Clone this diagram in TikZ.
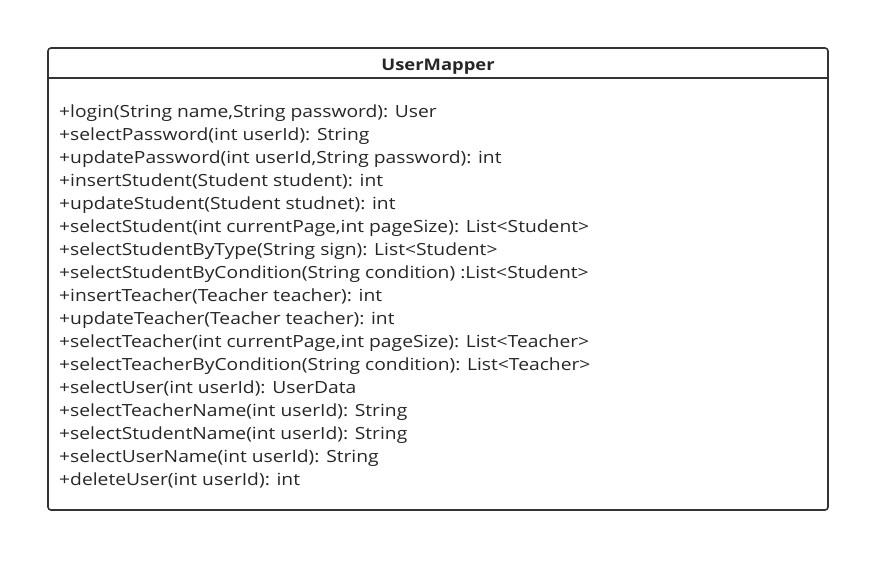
\documentclass[tikz,border=0pt]{standalone}
\usepackage{fontspec}
\setmainfont{Open Sans}[FakeStretch=1.15]
\usetikzlibrary{positioning}

\tikzset{
    boxline/.style={line width=1.6pt, color=black!80},
    method/.style={anchor=base west, inner sep=0pt, font=\fontsize{16.75}{20}\selectfont, text=black!85}
}

\begin{document}
\begin{tikzpicture}[x=1pt, y=-1pt]
                \useasboundingbox (0, 0) rectangle (890, 573);
                \draw[boxline, rounded corners=3pt](48, 48) rectangle (828, 510);
                \draw[boxline](48, 78)--(828, 78);

                \node[anchor=base, inner sep=0pt, font=\fontsize{16}{19}\selectfont\bfseries, text=black!85] (title) at (438, 70) {UserMapper};

                \node[method] (m1) at (59, 117) {+login(String name,String password): User};
                \node[method] (m2) at (59, 140) {+selectPassword(int userId): String};
                \node[method] (m3) at (59, 163) {+updatePassword(int userId,String password): int};
                \node[method] (m4) at (59, 186) {+insertStudent(Student student): int};
                \node[method] (m5) at (59, 209) {+updateStudent(Student studnet): int};
                \node[method] (m6) at (59, 232) {+selectStudent(int currentPage,int pageSize): List<Student>};
                \node[method] (m7) at (59, 255) {+selectStudentByType(String sign): List<Student>};
                \node[method] (m8) at (59, 278) {+selectStudentByCondition(String condition) :List<Student>};
                \node[method] (m9) at (59, 301) {+insertTeacher(Teacher teacher): int};
                \node[method] (m10) at (59, 324) {+updateTeacher(Teacher teacher): int};
                \node[method] (m11) at (59, 347) {+selectTeacher(int currentPage,int pageSize): List<Teacher>};
                \node[method] (m12) at (59, 370) {+selectTeacherByCondition(String condition): List<Teacher>};
                \node[method] (m13) at (59, 393) {+selectUser(int userId): UserData};
                \node[method] (m14) at (59, 416) {+selectTeacherName(int userId): String};
                \node[method] (m15) at (59, 439) {+selectStudentName(int userId): String};
                \node[method] (m16) at (59, 462) {+selectUserName(int userId): String};
                \node[method] (m17) at (59, 485) {+deleteUser(int userId): int};
            \end{tikzpicture}
\end{document}
